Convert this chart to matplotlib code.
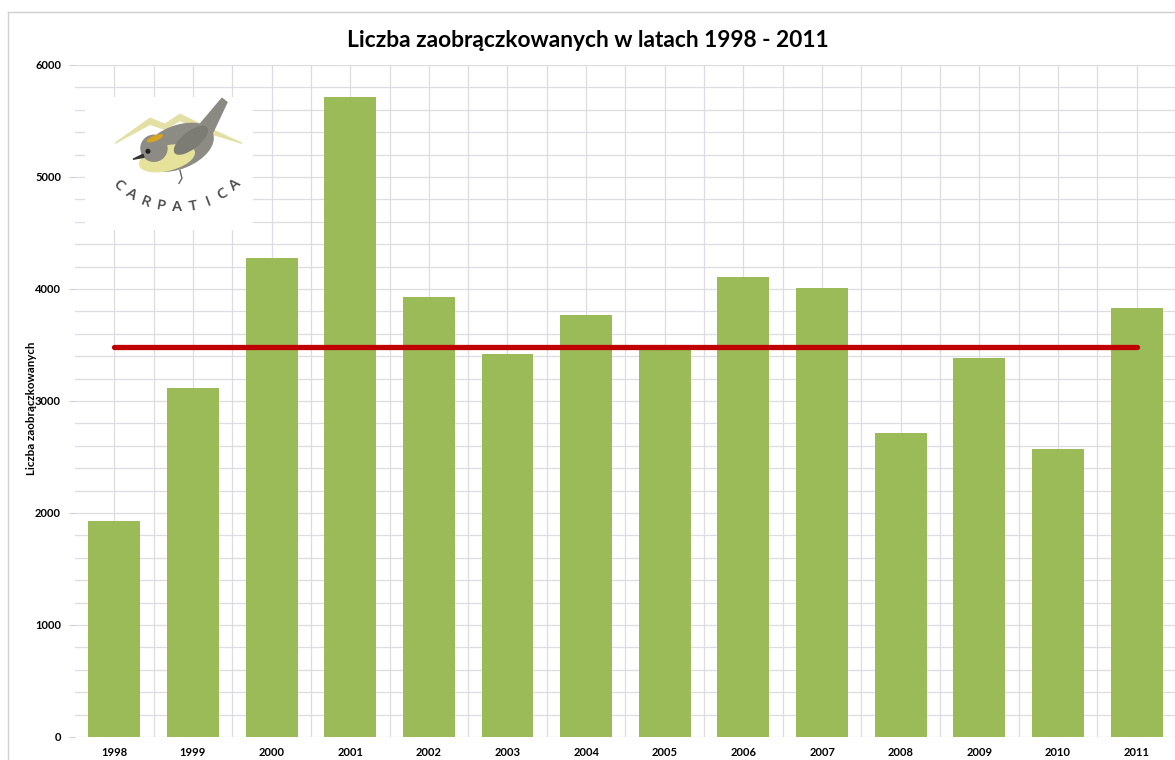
import numpy as np
import matplotlib.pyplot as plt
from matplotlib.patches import Ellipse, Polygon, Circle
from matplotlib.lines import Line2D
from matplotlib.ticker import MultipleLocator

years = ["1998", "1999", "2000", "2001", "2002", "2003", "2004",
         "2005", "2006", "2007", "2008", "2009", "2010", "2011"]
ringed = [1925, 3115, 4280, 5710, 3925, 3420, 3768,
          3455, 4107, 4009, 2714, 3384, 2571, 3830]
mean_line = [3480] * len(years)

title = "Liczba zaobrączkowanych w latach 1998 - 2011"
ylabel = "Liczba zaobrączkowanych"
logo_text = "CARPATICA"

plt.rcParams['font.family'] = ['Lato', 'DejaVu Sans']

fig = plt.figure(figsize=(11.75, 7.6), dpi=100)
ax = fig.add_axes([0.0638, 0.0303, 0.937, 0.8842])

x = np.arange(len(years))
ax.bar(x, ringed, width=0.66, color="#9BBB59", zorder=3)
ax.plot(x, mean_line, color="#C00000", lw=3.8, solid_capstyle="round", zorder=4)

ax.set_xlim(-0.5, len(years) - 0.5)
ax.set_ylim(0, 6000)
ax.yaxis.set_major_locator(MultipleLocator(1000))
ax.yaxis.set_minor_locator(MultipleLocator(200))
ax.set_xticks(x)
ax.set_xticks(x[:-1] + 0.5, minor=True)
ax.set_xticklabels(years)
ax.grid(which="both", color="#DCDCE2", lw=0.9)
ax.set_axisbelow(True)

for s in ax.spines.values():
    s.set_visible(False)
ax.tick_params(axis="y", which="major", length=4, color="#D0D0D0", labelsize=8, pad=6)
ax.tick_params(axis="x", which="major", length=0, labelsize=8, pad=7)
ax.tick_params(which="minor", length=0)
for lab in ax.get_xticklabels() + ax.get_yticklabels():
    lab.set_fontweight("bold")

fig.text(0.5, 0.947, title, ha="center", va="center", fontsize=16.4, fontweight="bold")
fig.text(0.027, 0.463, ylabel, rotation=90, ha="center", va="center",
         fontsize=8.3, fontweight="bold")

# outer frame
fig.add_artist(Line2D([0.007, 0.007], [0, 0.984], color="#D0D0D0", lw=1))
fig.add_artist(Line2D([0.007, 1], [0.984, 0.984], color="#D0D0D0", lw=1))

# logo
lg = fig.add_axes([0.0723, 0.697, 0.143, 0.175])
lg.set_xlim(0, 168)
lg.set_ylim(0, 133)
lg.axis("off")
lg.add_patch(plt.Rectangle((0, 0), 168, 133, color="white", zorder=0))
lg.add_patch(Polygon([(30, 87), (65, 112), (80, 106), (95, 116), (120, 104), (157, 87),
                      (118, 99), (95, 110), (80, 101), (65, 106)],
                     color="#E2E0A4", zorder=1))
lg.add_patch(Polygon([(110, 100), (137, 132), (142, 128), (126, 94)], color="#8A8A82", zorder=2))
lg.add_patch(Ellipse((93, 83), 74, 42, angle=22, color="#8C8C84", zorder=2))
lg.add_patch(Ellipse((82, 72), 56, 24, angle=14, color="#E6E29A", zorder=3))
lg.add_patch(Ellipse((106, 90), 40, 16, angle=38, color="#7C7C74", zorder=3))
lg.add_patch(Circle((69, 82), 13, color="#8C8C84", zorder=3))
lg.add_patch(Ellipse((70, 92), 16, 4, angle=22, color="#D9A520", zorder=4))
lg.add_patch(Polygon([(58, 76), (48, 71), (59, 73)], color="#333333", zorder=4))
lg.add_patch(Circle((63, 79), 1.8, color="#222222", zorder=4))
lg.plot([95, 97, 94], [60, 52, 47], color="#666666", lw=1, zorder=4)
cx, cy, r = 92, 110, 87
phis = np.linspace(-42, 42, len(logo_text))
for ch, phi in zip(logo_text, phis):
    t = np.radians(phi)
    lg.text(cx + r * np.sin(t), cy - r * np.cos(t), ch, rotation=phi,
            ha="center", va="center", fontsize=11, color="#4A4A4A",
            fontweight="semibold", family=["Open Sans", "DejaVu Sans"])

fig.savefig("out.png", dpi=100)
